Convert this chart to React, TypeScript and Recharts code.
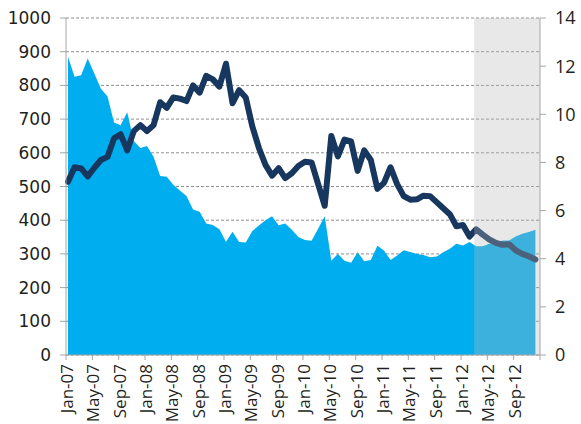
import {
  ComposedChart,
  Area,
  Line,
  XAxis,
  YAxis,
  CartesianGrid,
  ReferenceArea,
} from "recharts";

// tick labels on the x axis, one every 4 months from Jan-07
const TICK_LABELS = [
  "Jan-07", "May-07", "Sep-07",
  "Jan-08", "May-08", "Sep-08",
  "Jan-09", "May-09", "Sep-09",
  "Jan-10", "May-10", "Sep-10",
  "Jan-11", "May-11", "Sep-11",
  "Jan-12", "May-12", "Sep-12",
];

const LEFT_TICKS = [0, 100, 200, 300, 400, 500, 600, 700, 800, 900, 1000];
const RIGHT_TICKS = [0, 2, 4, 6, 8, 10, 12, 14];

// monthly values, Jan-07 .. Dec-12 (left axis, blue area)
const areaValues = [
  885, 826, 830, 880, 835, 790, 768, 690, 682, 720,
  635, 614, 620, 588, 531, 529, 505, 488, 472, 432,
  425, 390, 386, 373, 336, 366, 335, 334, 368, 384,
  400, 412, 385, 390, 372, 350, 341, 339, 375, 412,
  280, 300, 280, 274, 305, 278, 282, 324, 310, 282,
  295, 311, 306, 300, 297, 290, 292, 305, 315, 330,
  325, 335, 323, 323, 330, 333, 340, 340, 352, 360,
  365, 372,
];

// monthly values, Jan-07 .. Dec-12 (right axis, dark line)
const lineValues = [
  7.2, 7.8, 7.75, 7.42, 7.78, 8.1, 8.23, 9.0, 9.17, 8.5,
  9.3, 9.55, 9.3, 9.55, 10.5, 10.27, 10.7, 10.65, 10.55, 11.2,
  10.9, 11.6, 11.45, 11.15, 12.1, 10.46, 11.0, 10.7, 9.5, 8.6,
  7.9, 7.45, 7.76, 7.35, 7.55, 7.85, 8.03, 8.0, 7.1, 6.2,
  9.1, 8.25, 8.95, 8.87, 7.65, 8.5, 8.1, 6.9, 7.15, 7.8,
  7.1, 6.6, 6.45, 6.47, 6.62, 6.6, 6.35, 6.1, 5.85, 5.35,
  5.4, 4.92, 5.22, 5.0, 4.8, 4.66, 4.58, 4.6, 4.35, 4.2,
  4.1, 3.97,
];

// forecast period shaded from Mar-12
const SHADE_START = 62;
const MONTHS = 72;
// points sit a little right of the month tick
const POINT_OFFSET = 0.3;

const data = areaValues.map((v, i) => ({
  x: i + POINT_OFFSET,
  area: v,
  line: lineValues[i],
}));

const xTicks = [...TICK_LABELS.map((_, i) => i * 4), MONTHS];

const AXIS_GREY = "#a6a6a6";

function MonthTick(props: any) {
  const { x, y, payload } = props;
  const label = TICK_LABELS[payload.value / 4] ?? "";
  return (
    <text
      x={x}
      y={y}
      dy={7}
      transform={`rotate(-90 ${x} ${y})`}
      textAnchor="end"
      fill="#231f20"
      fontSize={17}
      fontFamily="'Open Sans', sans-serif"
    >
      {label}
    </text>
  );
}

export default function App() {
  return (
    <div style={{ position: "absolute", left: 0, top: 0, background: "#fff" }}>
      <ComposedChart
        width={581}
        height={424}
        data={data}
        margin={{ top: 18, right: 0, bottom: 0, left: 0 }}
      >
        <CartesianGrid
          yAxisId="left"
          vertical={false}
          stroke="#8f8f8f"
          strokeDasharray="3 2"
        />
        <XAxis
          dataKey="x"
          type="number"
          domain={[0, MONTHS]}
          ticks={xTicks}
          interval={0}
          height={69}
          tick={<MonthTick />}
          tickSize={5}
          tickMargin={4}
          stroke={AXIS_GREY}
        />
        <YAxis
          yAxisId="left"
          domain={[0, 1000]}
          ticks={LEFT_TICKS}
          width={66}
          tickSize={6}
          tickMargin={9}
          stroke={AXIS_GREY}
          tick={{ fill: "#231f20", fontSize: 17, fontFamily: "'DejaVu Sans', sans-serif" }}
        />
        <YAxis
          yAxisId="marks"
          orientation="right"
          domain={[0, 1000]}
          ticks={LEFT_TICKS}
          width={0}
          tick={false}
          tickSize={6}
          stroke={AXIS_GREY}
        />
        <YAxis
          yAxisId="right"
          orientation="right"
          domain={[0, 14]}
          ticks={RIGHT_TICKS}
          width={41}
          tickSize={6}
          tickMargin={9}
          stroke={AXIS_GREY}
          tick={{ fill: "#231f20", fontSize: 18, fontFamily: "'Open Sans', sans-serif" }}
        />
        <Area
          yAxisId="left"
          dataKey="area"
          type="linear"
          fill="#00aeef"
          fillOpacity={1}
          stroke="none"
          dot={false}
          activeDot={false}
          isAnimationActive={false}
        />
        <Line
          yAxisId="right"
          dataKey="line"
          type="linear"
          stroke="#17375e"
          strokeWidth={6}
          strokeLinejoin="round"
          strokeLinecap="round"
          dot={false}
          activeDot={false}
          isAnimationActive={false}
        />
        <ReferenceArea
          yAxisId="left"
          x1={SHADE_START}
          x2={MONTHS}
          y1={0}
          y2={1000}
          fill="#b9b9b9"
          fillOpacity={0.33}
          stroke="none"
          zIndex={450}
        />
      </ComposedChart>
    </div>
  );
}
